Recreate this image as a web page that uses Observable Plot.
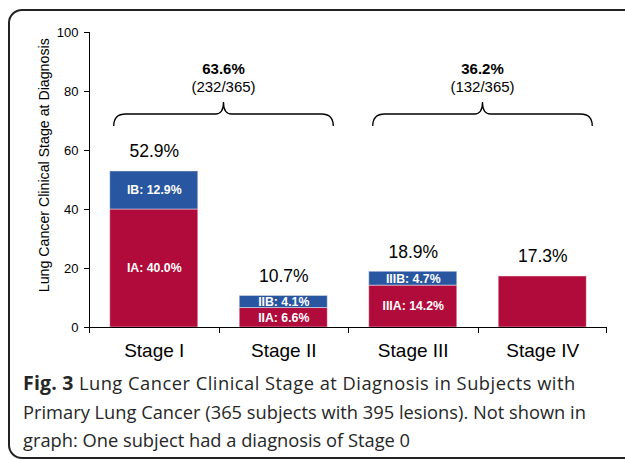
<!DOCTYPE html>
<html><head><meta charset="utf-8">
<script src="https://cdn.jsdelivr.net/npm/d3@7"></script>
<script src="https://cdn.jsdelivr.net/npm/@observablehq/plot@0.6"></script>
<style>
html,body{margin:0;padding:0;background:#fff;width:625px;height:459px;overflow:hidden;position:relative;}
#frame{position:absolute;left:8px;top:9px;width:700px;height:446px;border:2px solid #222;border-radius:14px 0 0 14px;}
#chart{position:absolute;left:0;top:0;}
#caption{position:absolute;left:23px;top:369px;font-family:"Open Sans";font-size:18.3px;line-height:28.5px;color:#262626;white-space:nowrap;}
#caption .l1{letter-spacing:0.5px;}
#caption b{font-size:19.5px;letter-spacing:0.2px;}
</style></head><body>
<div id="frame"></div>
<div id="chart"></div>
<div id="caption"><span class="l1"><b>Fig. 3</b> Lung Cancer Clinical Stage at Diagnosis in Subjects with</span><br>Primary Lung Cancer (365 subjects with 395 lesions). Not shown in<br>graph: One subject had a diagnosis of Stage 0</div>
<script>
const categories = ["Stage I", "Stage II", "Stage III", "Stage IV"];
const lowerValues = [40.0, 6.6, 14.2, 17.3];
const upperValues = [12.9, 4.1, 4.7, 0];
const lowerLabels = ["IA: 40.0%", "IIA: 6.6%", "IIIA: 14.2%", ""];
const upperLabels = ["IB: 12.9%", "IIB: 4.1%", "IIIB: 4.7%", ""];
const totals = [52.9, 10.7, 18.9, 17.3];
const totalLabels = ["52.9%", "10.7%", "18.9%", "17.3%"];
const yTicks = [0, 20, 40, 60, 80, 100];
const yLabel = "Lung Cancer Clinical Stage at Diagnosis";
const braceFrom = ["Stage I", "Stage III"];
const braceTo = ["Stage II", "Stage IV"];
const braceLevel = [72.2, 72.2];
const bracePct = ["63.6%", "36.2%"];
const braceFrac = ["(232/365)", "(132/365)"];

const RED = "#b10b3b", BLUE = "#2856a0";
const FONT = "Liberation Sans, Arial, sans-serif";

const segments = [];
categories.forEach((c, i) => {
  segments.push({stage: c, y1: 0, y2: lowerValues[i], label: lowerLabels[i], color: RED});
  if (upperValues[i] > 0) segments.push({stage: c, y1: lowerValues[i], y2: lowerValues[i] + upperValues[i], label: upperLabels[i], color: BLUE});
});
const totalsData = categories.map((c, i) => ({stage: c, total: totals[i], label: totalLabels[i]}));
const braces = braceFrom.map((f, i) => ({from: f, to: braceTo[i], level: braceLevel[i], pct: bracePct[i], frac: braceFrac[i]}));

const decor = (index, scales, values, dims) => {
  const {x, y} = scales;
  const step = x.step(), pad = x.paddingInner() * step / 2;
  const g = d3.create("svg:g").attr("fill", "none").attr("stroke", "#000");
  g.append("line").attr("x1", dims.marginLeft + 0.5).attr("x2", dims.marginLeft + 0.5).attr("y1", y(0)).attr("y2", y(100));
  const bounds = categories.map(c => x(c) - pad).concat([x(categories[categories.length - 1]) + x.bandwidth() + pad]);
  for (const b of bounds) {
    const bx = Math.min(Math.round(b) + 0.5, dims.width - dims.marginRight - 0.5);
    g.append("line").attr("x1", bx).attr("x2", bx).attr("y1", y(0)).attr("y2", y(0) + 6);
  }
  for (const br of braces) {
    const x1 = x(br.from) + 4, x2 = x(br.to) + x.bandwidth() + 6;
    const m = (x1 + x2) / 2, yh = y(br.level), ye = yh + 12, yc = yh - 12;
    const r = 12;
    const d = `M${x1},${ye} Q${x1},${yh} ${x1 + r},${yh} L${m - 8},${yh} Q${m},${yh} ${m},${yc} Q${m},${yh} ${m + 8},${yh} L${x2 - r},${yh} Q${x2},${yh} ${x2},${ye}`;
    g.append("path").attr("d", d).attr("stroke-width", 1.3);
    g.append("text").attr("x", m).attr("y", yc - 28).attr("text-anchor", "middle")
      .attr("fill", "#000").attr("stroke", "none").attr("font-family", FONT).attr("font-size", 15).attr("font-weight", "bold").text(br.pct);
    g.append("text").attr("x", m).attr("y", yc - 10).attr("text-anchor", "middle")
      .attr("fill", "#000").attr("stroke", "none").attr("font-family", FONT).attr("font-size", 15).text(br.frac);
  }
  return g.node();
};

const plot = Plot.plot({
  width: 625,
  height: 372,
  marginLeft: 89,
  marginRight: 18,
  marginTop: 32,
  marginBottom: 45,
  style: {fontFamily: FONT, background: "transparent", overflow: "visible"},
  x: {domain: categories, paddingInner: 0.32, paddingOuter: 0.16, round: false},
  y: {domain: [0, 100]},
  marks: [
    Plot.barY(segments, {x: "stage", y1: "y1", y2: "y2", fill: "color", stroke: "#fff", strokeOpacity: 0.45, strokeWidth: 1}),
    Plot.text(segments, {x: "stage", y: d => (d.y1 + d.y2) / 2, text: "label", fill: "#fff", fontWeight: "bold", fontSize: 12.3}),
    Plot.text(totalsData, {x: "stage", y: "total", text: "label", lineAnchor: "bottom", dy: -14, fontSize: 17.5, fill: "#000"}),
    Plot.ruleY([0], {stroke: "#000"}),
    Plot.axisY({ticks: yTicks, tickSize: 5, tickPadding: 6, fontSize: 13, label: null, color: "#000"}),
    Plot.axisX({tickSize: 0, tickPadding: 16, fontSize: 19, label: null, color: "#000"}),
    Plot.text([yLabel], {frameAnchor: "left", y: 55, rotate: -90, dx: -45, textAnchor: "middle", lineAnchor: "middle", fontSize: 14.2, fill: "#000"}),
    decor
  ]
});
document.getElementById("chart").appendChild(plot);
</script>
</body></html>
